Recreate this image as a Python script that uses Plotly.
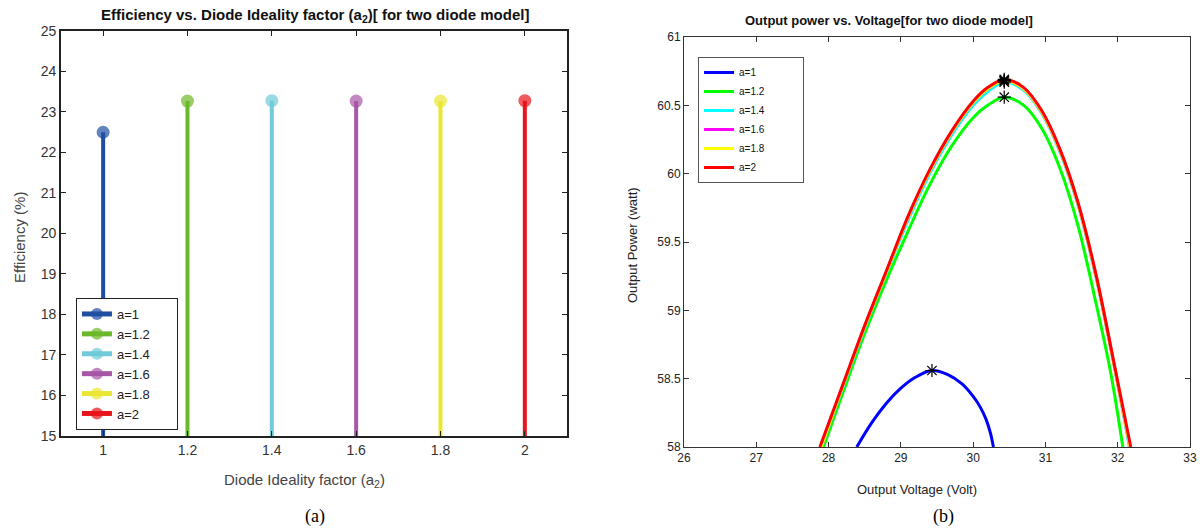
import plotly.graph_objects as go

# ---------------- data: panel (a) ----------------
ideality = [1.0, 1.2, 1.4, 1.6, 1.8, 2.0]
efficiency = [22.5, 23.27, 23.28, 23.27, 23.27, 23.28]
stem_names = ["a=1", "a=1.2", "a=1.4", "a=1.6", "a=1.8", "a=2"]
stem_colors = ["#1f4ea3", "#6cb82b", "#6fcbd9", "#a856a6", "#ebe633", "#e8141b"]
x_ticks_a = [1, 1.2, 1.4, 1.6, 1.8, 2]
y_ticks_a = list(range(15, 26))

# ---------------- data: panel (b) ----------------
v_a1 = [28.39, 28.6, 28.8, 29.0, 29.2, 29.43, 29.65, 29.85, 30.0, 30.1, 30.18, 30.24, 30.28]
p_a1 = [58.0, 58.18, 58.32, 58.43, 58.51, 58.56, 58.53, 58.46, 58.37, 58.29, 58.2, 58.1, 58.0]

v_a12 = [27.93, 28.2, 28.5, 28.8, 29.1, 29.4, 29.7, 30.0, 30.2, 30.43, 30.7, 30.95, 31.2, 31.45, 31.7, 31.9, 32.07]
p_a12 = [58.0, 58.4, 58.83, 59.22, 59.58, 59.92, 60.2, 60.41, 60.5, 60.56, 60.5, 60.33, 60.04, 59.62, 59.05, 58.55, 58.0]

v_a14 = [27.9, 28.2, 28.5, 28.8, 29.1, 29.4, 29.7, 30.0, 30.2, 30.43, 30.7, 30.95, 31.2, 31.45, 31.7, 31.95, 32.16]
p_a14 = [58.0, 58.44, 58.87, 59.27, 59.66, 60.0, 60.28, 60.5, 60.6, 60.67, 60.61, 60.44, 60.16, 59.77, 59.24, 58.6, 58.0]

v_a16 = [27.9, 28.2, 28.5, 28.8, 29.1, 29.4, 29.7, 30.0, 30.2, 30.43, 30.7, 30.95, 31.2, 31.45, 31.7, 31.95, 32.17]
p_a16 = [58.0, 58.45, 58.88, 59.28, 59.68, 60.02, 60.3, 60.52, 60.62, 60.68, 60.62, 60.45, 60.17, 59.78, 59.25, 58.6, 58.0]

v_a18 = [27.9, 28.2, 28.5, 28.8, 29.1, 29.4, 29.7, 30.0, 30.2, 30.43, 30.7, 30.95, 31.2, 31.45, 31.7, 31.95, 32.17]
p_a18 = [58.0, 58.45, 58.88, 59.28, 59.68, 60.02, 60.3, 60.52, 60.62, 60.68, 60.62, 60.45, 60.17, 59.78, 59.25, 58.6, 58.0]

v_a2 = [27.88, 28.2, 28.5, 28.8, 29.1, 29.4, 29.7, 30.0, 30.2, 30.43, 30.7, 30.95, 31.2, 31.45, 31.7, 31.95, 32.18]
p_a2 = [58.0, 58.46, 58.89, 59.29, 59.69, 60.03, 60.31, 60.53, 60.63, 60.69, 60.63, 60.46, 60.18, 59.79, 59.26, 58.61, 58.0]

curve_names = ["a=1", "a=1.2", "a=1.4", "a=1.6", "a=1.8", "a=2"]
curve_colors = ["#0000ff", "#00ff00", "#00ffff", "#ff00ff", "#ffff00", "#ff0000"]
mpp_v = [29.43, 30.43, 30.43, 30.43, 30.43, 30.43]
mpp_p = [58.56, 60.56, 60.67, 60.68, 60.68, 60.69]
x_ticks_b = list(range(26, 34))
y_ticks_b = [58, 58.5, 59, 59.5, 60, 60.5, 61]

PAD_A = "\u00a0" * 6
PAD_B = "\u00a0" * 12

# ---------------- figure ----------------
fig = go.Figure()

for a, e, n, c in zip(ideality, efficiency, stem_names, stem_colors):
    fig.add_trace(go.Scatter(
        x=[a, a], y=[15, e], mode="lines+markers", name=n + PAD_A,
        line=dict(color=c, width=4),
        marker=dict(color=c, size=[0, 13], line=dict(width=0)),
        xaxis="x", yaxis="y", legend="legend", cliponaxis=False))

curves_v = [v_a1, v_a12, v_a14, v_a16, v_a18, v_a2]
curves_p = [p_a1, p_a12, p_a14, p_a16, p_a18, p_a2]
for v, p, n, c in zip(curves_v, curves_p, curve_names, curve_colors):
    fig.add_trace(go.Scatter(
        x=v, y=p, mode="lines", name=n + PAD_B, line=dict(color=c, width=3, shape="spline"),
        xaxis="x2", yaxis="y2", legend="legend2"))

fig.add_trace(go.Scatter(
    x=mpp_v, y=mpp_p, mode="markers", showlegend=False,
    marker=dict(symbol="asterisk", size=11, color="black", line=dict(color="black", width=1.2)),
    xaxis="x2", yaxis="y2"))

axis_a = dict(showline=True, linecolor="#222", linewidth=1.5, mirror="ticks", automargin=False,
              ticks="inside", ticklen=5, tickcolor="#222", showgrid=False, zeroline=False,
              tickfont=dict(family="Liberation Sans, Arial", size=14, color="#333"))
axis_b = dict(showline=True, linecolor="#333", linewidth=1, mirror="ticks", automargin=False,
              ticks="inside", ticklen=5, tickcolor="#333", showgrid=False, zeroline=False,
              tickfont=dict(family="Liberation Sans, Arial", size=12, color="#222"))

fig.update_layout(
    width=1200, height=529, margin=dict(l=0, r=0, t=0, b=0, autoexpand=False),
    paper_bgcolor="white", plot_bgcolor="white",
    xaxis=dict(domain=[0.0508, 0.4725], range=[0.9, 2.1], tickvals=x_ticks_a,
               ticktext=[str(t) for t in x_ticks_a], anchor="y", **axis_a),
    yaxis=dict(domain=[0.1758, 0.9414], range=[15, 25], tickvals=y_ticks_a, anchor="x", **axis_a),
    xaxis2=dict(domain=[0.570, 0.9917], range=[26, 33], tickvals=x_ticks_b, anchor="y2", **axis_b),
    yaxis2=dict(domain=[0.155, 0.930], range=[58, 61], tickvals=y_ticks_b,
                ticktext=["58", "58.5", "59", "59.5", "60", "60.5", "61"], anchor="x2", **axis_b),
    legend=dict(x=0.0633, y=1 - 298 / 529, xanchor="left", yanchor="top", bgcolor="white",
                bordercolor="#222", borderwidth=1, itemsizing="constant", tracegroupgap=0,
                font=dict(family="Liberation Sans, Arial", size=13, color="#222")),
    legend2=dict(x=0.5817, y=1 - 57 / 529, xanchor="left", yanchor="top", bgcolor="white",
                 bordercolor="#555", borderwidth=1, tracegroupgap=0,
                 font=dict(family="Liberation Sans, Arial", size=10, color="#111")),
    showlegend=True,
)

ann = [
    dict(text="<b>Efficiency vs. Diode Ideality factor (a<sub>2</sub>)[ for two diode model]</b>",
         x=315 / 1200, y=1 - 16 / 529, font=dict(size=15, family="Liberation Sans, Arial", color="#111")),
    dict(text="Efficiency (%)", x=19 / 1200, y=1 - 238 / 529, textangle=-90,
         font=dict(size=15, family="Liberation Sans, Arial", color="#444")),
    dict(text="Diode Ideality factor (a<sub>2</sub>)", x=304 / 1200, y=1 - 480 / 529,
         font=dict(size=15, family="Liberation Sans, Arial", color="#444")),
    dict(text="(a)", x=315 / 1200, y=1 - 516 / 529,
         font=dict(size=18, family="Liberation Serif, Times New Roman", color="#000")),
    dict(text="<b>Output power vs. Voltage[for two diode model]</b>",
         x=889 / 1200, y=1 - 20 / 529, font=dict(size=13, family="Liberation Sans, Arial", color="#111")),
    dict(text="Output Power (watt)", x=632 / 1200, y=1 - 245 / 529, textangle=-90,
         font=dict(size=13, family="Liberation Sans, Arial", color="#222")),
    dict(text="Output Voltage (Volt)", x=917 / 1200, y=1 - 489 / 529,
         font=dict(size=13, family="Liberation Sans, Arial", color="#222")),
    dict(text="(b)", x=943 / 1200, y=1 - 516 / 529,
         font=dict(size=18, family="Liberation Serif, Times New Roman", color="#000")),
]
for a in ann:
    a.update(xref="paper", yref="paper", showarrow=False, xanchor="center", yanchor="middle")
fig.update_layout(annotations=ann)

fig.write_html("out.html", config={"displayModeBar": False},
               post_script="document.body.style.margin='0';document.body.style.overflow='hidden';")
